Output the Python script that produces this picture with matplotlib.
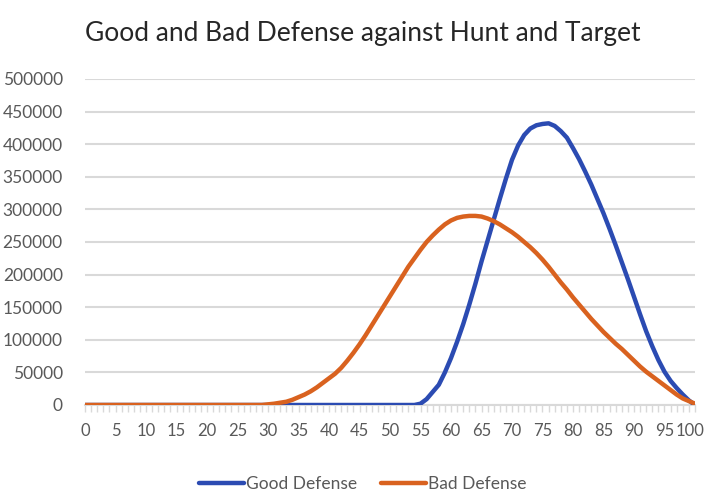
import numpy as np
import matplotlib
matplotlib.use("Agg")
import matplotlib.pyplot as plt
import matplotlib.transforms as mtransforms
from matplotlib.ticker import MultipleLocator

plt.rcParams['font.family'] = ['Lato', 'DejaVu Sans']

# defense score 0..100
x = list(range(0, 101))
x_ticks = list(range(0, 101, 5))
y_ticks = list(range(0, 500001, 50000))

good_defense = [0] * 55 + [
    2000, 9000, 20000, 31000, 50000, 72000, 97000, 124000, 154000, 186000,   # 55-64
    220000, 252000, 284000, 316000, 347000, 376000, 398000, 414000, 424000, 429000,  # 65-74
    431000, 432000, 428000, 420000, 410000, 394000, 377000, 358000, 338000, 316000,  # 75-84
    294000, 270000, 245000, 219000, 193000, 166000, 139000, 113000, 90000, 69000,   # 85-94
    51000, 37000, 26000, 16000, 7000, 0,                                           # 95-100
]

bad_defense = [0] * 30 + [
    1000, 2000, 3500, 5000, 8000, 12000, 16000, 21000, 27000, 34000,          # 30-39
    41000, 48000, 57000, 68000, 80000, 93000, 107000, 122000, 137000, 152000,  # 40-49
    167000, 182000, 197000, 212000, 225000, 238000, 250000, 260000, 269000, 277000,  # 50-59
    283000, 287000, 289000, 290000, 290000, 289000, 286000, 282000, 277000, 271000,  # 60-69
    265000, 258000, 250000, 242000, 233000, 223000, 212000, 200000, 188000, 177000,  # 70-79
    165000, 154000, 143000, 132000, 122000, 112000, 103000, 94000, 86000, 77000,     # 80-89
    68000, 59000, 51000, 44000, 37000, 30000, 23000, 16000, 10000, 6000,             # 90-99
    2000,                                                                          # 100
]

series_names = ["Good Defense", "Bad Defense"]
colors = ["#2B4BB2", "#D9621F"]
text_color = "#595959"
grid_color = "#D9D9D9"

fig = plt.figure(figsize=(7.05, 4.93), dpi=100)
ax = fig.add_axes([0.1206, 0.1785, 0.8652, 0.6613])

ax.plot(x, good_defense, color=colors[0], lw=3.2, label=series_names[0],
        solid_capstyle='round', zorder=3)
ax.plot(x, bad_defense, color=colors[1], lw=3.2, label=series_names[1],
        solid_capstyle='round', zorder=3)

ax.set_xlim(0, 100)
ax.set_ylim(0, 500000)
ax.set_xticks(x_ticks)
ax.set_yticks(y_ticks)
ax.xaxis.set_minor_locator(MultipleLocator(1))

ax.grid(axis='y', color=grid_color, lw=1.5, zorder=0)
ax.set_axisbelow(True)

for side in ["top", "right", "left"]:
    ax.spines[side].set_visible(False)
ax.spines["bottom"].set_color(grid_color)
ax.spines["bottom"].set_linewidth(1.5)

ax.tick_params(axis='y', length=0, pad=16, labelsize=12.5, labelcolor=text_color)
ax.tick_params(axis='x', which='major', length=5, width=1, color=grid_color,
               pad=8, labelsize=12, labelcolor=text_color)
ax.tick_params(axis='x', which='minor', length=5, width=1, color=grid_color)

# pull the "100" label a few pixels left so it stays inside the figure
last = ax.xaxis.get_major_ticks()[-1].label1
last.set_transform(last.get_transform() +
                   mtransforms.ScaledTranslation(-4.5 / 100, 0, fig.dpi_scale_trans))

ax.set_title("Good and Bad Defense against Hunt and Target", fontsize=19,
             color="#262626", x=0.455, y=1.09)

ax.legend(loc='upper center', bbox_to_anchor=(0.455, -0.17), ncol=2,
          frameon=False, fontsize=12.5, labelcolor=text_color,
          handlelength=2.6, handletextpad=0.1, columnspacing=1.4)

fig.savefig("out.png", dpi=100)
